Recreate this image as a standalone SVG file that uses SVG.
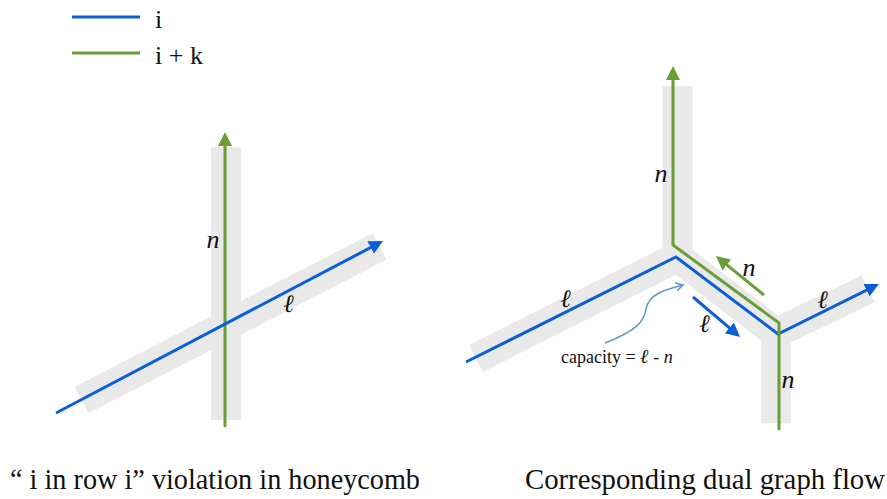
<svg xmlns="http://www.w3.org/2000/svg" width="887" height="499" viewBox="0 0 887 499">
<style>
  .band { fill: none; stroke: #e9e9e9; stroke-width: 30; stroke-linejoin: miter; stroke-linecap: butt; }
  .blue { fill: none; stroke: #0b5fd6; stroke-width: 3; stroke-linejoin: miter; }
  .green { fill: none; stroke: #6b9d37; stroke-width: 3; stroke-linejoin: miter; }
  .thin { fill: none; stroke: #5b9bd5; stroke-width: 1.6; }
  .lbl { font-family: "Liberation Serif", "DejaVu Serif", serif; font-style: italic; font-size: 26px; fill: #111; text-anchor: middle; }
  .ell { font-family: "DejaVu Serif", "Liberation Serif", serif; font-style: italic; font-weight: bold; font-size: 25px; fill: #111; text-anchor: middle; }
  .txt { font-family: "Liberation Serif", "DejaVu Serif", serif; fill: #111; }
</style>
<defs>
  <marker id="ab" markerUnits="userSpaceOnUse" markerWidth="16" markerHeight="16" refX="2" refY="7" orient="auto">
    <path d="M0,0 L14,7 L0,14 z" fill="#0b5fd6"/>
  </marker>
  <marker id="ag" markerUnits="userSpaceOnUse" markerWidth="16" markerHeight="16" refX="2" refY="7" orient="auto">
    <path d="M0,0 L14,7 L0,14 z" fill="#6b9d37"/>
  </marker>
  <marker id="at" markerUnits="userSpaceOnUse" markerWidth="12" markerHeight="12" refX="8" refY="5" orient="auto">
    <path d="M1,1 L8,5 L1,9" fill="none" stroke="#5b9bd5" stroke-width="1.6"/>
  </marker>
</defs>

<g id="legend">
  <line x1="72" y1="17" x2="140" y2="17" class="blue"/>
  <text x="155" y="28" class="txt" font-size="26">i</text>
  <line x1="72" y1="53" x2="140" y2="53" class="green"/>
  <text x="155" y="64" class="txt" font-size="26">i + k</text>
</g>

<g id="left-bands">
  <line x1="226" y1="147" x2="226" y2="420" class="band"/>
  <line x1="81.5" y1="400" x2="379.5" y2="246.5" class="band"/>
</g>

<g id="right-bands">
  <path d="M677.5 86 V258" class="band"/>
  <path d="M476 358.5 L677.5 257 L776 333 L868 289" class="band"/>
  <path d="M776 332 V423" class="band"/>
</g>

<g id="connectors">
  <path d="M225 427 V144" class="green" marker-end="url(#ag)"/>
  <path d="M56 413 L372.4 246.6" class="blue" marker-end="url(#ab)"/>
  <path d="M466 362 L676 257 L778 334 L868.2 289.3" class="blue" marker-end="url(#ab)"/>
  <path d="M779 430 V323 L673 245 V78" class="green" marker-end="url(#ag)"/>
  <path d="M693 297 L730.9 329.2" class="blue" marker-end="url(#ab)"/>
  <path d="M764 295 L725.3 263.6" class="green" marker-end="url(#ag)"/>
  <path d="M605 343 C636 331 644 322 646 309 C649 294 664 290 683 285" class="thin" marker-end="url(#at)"/>
</g>

<g id="left-labels">
  <text x="213" y="248" class="lbl">n</text>
  <text x="289" y="312" class="ell">ℓ</text>
</g>

<g id="right-labels">
  <text x="661" y="182" class="lbl">n</text>
  <text x="749" y="276" class="lbl">n</text>
  <text x="788" y="388" class="lbl">n</text>
  <text x="566" y="307" class="ell">ℓ</text>
  <text x="823" y="308" class="ell">ℓ</text>
  <text x="705" y="332" class="ell">ℓ</text>
  <text x="561" y="363" class="txt" font-size="18">capacity = <tspan font-family="DejaVu Serif, serif" font-style="italic" font-weight="bold" font-size="20">ℓ</tspan> - <tspan font-style="italic">n</tspan></text>
</g>

<g id="captions">
  <text x="10" y="489" class="txt" font-size="29" textLength="410" lengthAdjust="spacingAndGlyphs">“ i in row i” violation in honeycomb</text>
  <text x="525" y="489" class="txt" font-size="29" textLength="360" lengthAdjust="spacingAndGlyphs">Corresponding dual graph flow</text>
</g>
</svg>
